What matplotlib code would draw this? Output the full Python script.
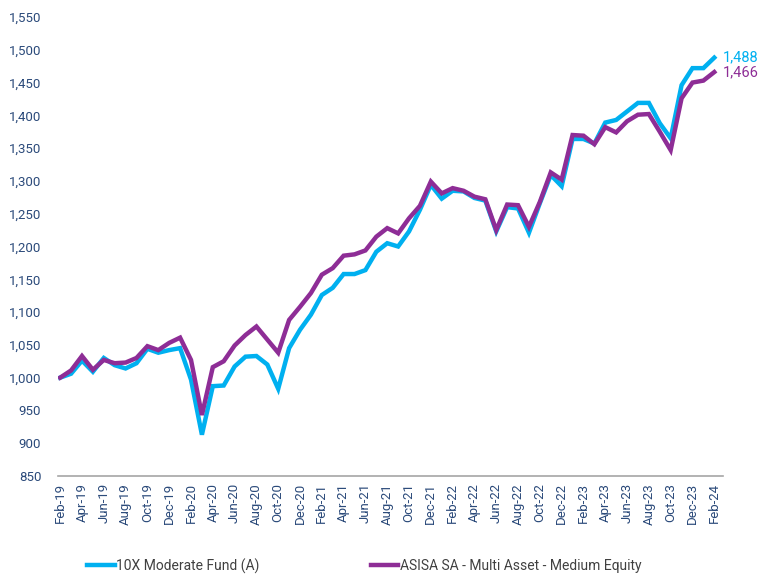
import matplotlib
matplotlib.use("Agg")
import matplotlib.pyplot as plt
from matplotlib.ticker import FuncFormatter

plt.rcParams['font.family'] = ['Roboto', 'DejaVu Sans']

# monthly index values, Feb-19 .. Feb-24
start_year, start_month = 2019, 2
month_names = ["Jan", "Feb", "Mar", "Apr", "May", "Jun",
               "Jul", "Aug", "Sep", "Oct", "Nov", "Dec"]

fund_10x = [1000, 1006, 1026, 1009, 1030, 1019, 1014, 1022, 1044, 1038,
            1042, 1045, 997, 913, 987, 988, 1017, 1032, 1033, 1020,
            983, 1045, 1073, 1096, 1126, 1137, 1158, 1158, 1164, 1192,
            1205, 1200, 1223, 1256, 1294, 1273, 1285, 1284, 1274, 1270,
            1223, 1260, 1258, 1221, 1266, 1309, 1292, 1364, 1364, 1357,
            1389, 1393, 1406, 1419, 1419, 1388, 1365, 1446, 1472, 1472,
            1488]

asisa_mam = [1000, 1011, 1033, 1012, 1027, 1022, 1023, 1030, 1048, 1042,
             1053, 1061, 1027, 943, 1016, 1025, 1049, 1065, 1078, 1058,
             1038, 1088, 1108, 1129, 1157, 1167, 1186, 1188, 1194, 1215,
             1228, 1220, 1243, 1262, 1299, 1281, 1289, 1285, 1276, 1272,
             1225, 1264, 1263, 1230, 1268, 1313, 1302, 1370, 1369, 1356,
             1382, 1374, 1391, 1401, 1402, 1375, 1347, 1426, 1450, 1453,
             1466]

labels = []
for i in range(len(fund_10x)):
    m = (start_month - 1 + i) % 12
    y = start_year + (start_month - 1 + i) // 12
    labels.append(f"{month_names[m]}-{y % 100:02d}")

blue = "#00B0F0"
purple = "#8E2D96"
navy = "#2B4A7A"

fig = plt.figure(figsize=(7.6, 5.74), dpi=100)
ax = fig.add_axes([58 / 760, 1 - 476 / 574, 665 / 760, 459 / 574])

x = list(range(len(fund_10x)))
ax.plot(x, fund_10x, color=blue, lw=3.2, label="10X Moderate Fund (A)", solid_joinstyle="miter")
ax.plot(x, asisa_mam, color=purple, lw=3.2, label="ASISA SA - Multi Asset - Medium Equity", solid_joinstyle="miter")

ax.set_xlim(-0.2, 60.8)
ax.set_ylim(850, 1550)
ax.set_yticks(range(850, 1551, 50))
ax.yaxis.set_major_formatter(FuncFormatter(lambda v, p: f"{int(v):,}"))
ax.set_xticks(x[::2])
ax.set_xticklabels(labels[::2], rotation=90)

for s in ["top", "right", "left"]:
    ax.spines[s].set_visible(False)
ax.spines["bottom"].set_color("#A6A6A6")
ax.spines["bottom"].set_linewidth(1.2)
ax.tick_params(axis="y", length=0, pad=12, labelsize=9.5, labelcolor=navy)
ax.tick_params(axis="x", length=0, pad=5, labelsize=9.5, labelcolor=navy)

ax.annotate(f"{fund_10x[-1]:,}", (x[-1], fund_10x[-1]), xytext=(6, 0),
            textcoords="offset points", color=blue, fontsize=10.5, va="center")
ax.annotate(f"{asisa_mam[-1]:,}", (x[-1], asisa_mam[-1]), xytext=(6, 0),
            textcoords="offset points", color=purple, fontsize=10.5, va="center")

fig.legend(loc="center left", bbox_to_anchor=(80 / 760, 1 - 566 / 574), ncol=2,
           frameon=False, fontsize=10, handlelength=2.0, handletextpad=0.1,
           columnspacing=8.0, borderpad=0, labelcolor="#404040")

fig.savefig("out.png", dpi=100)
